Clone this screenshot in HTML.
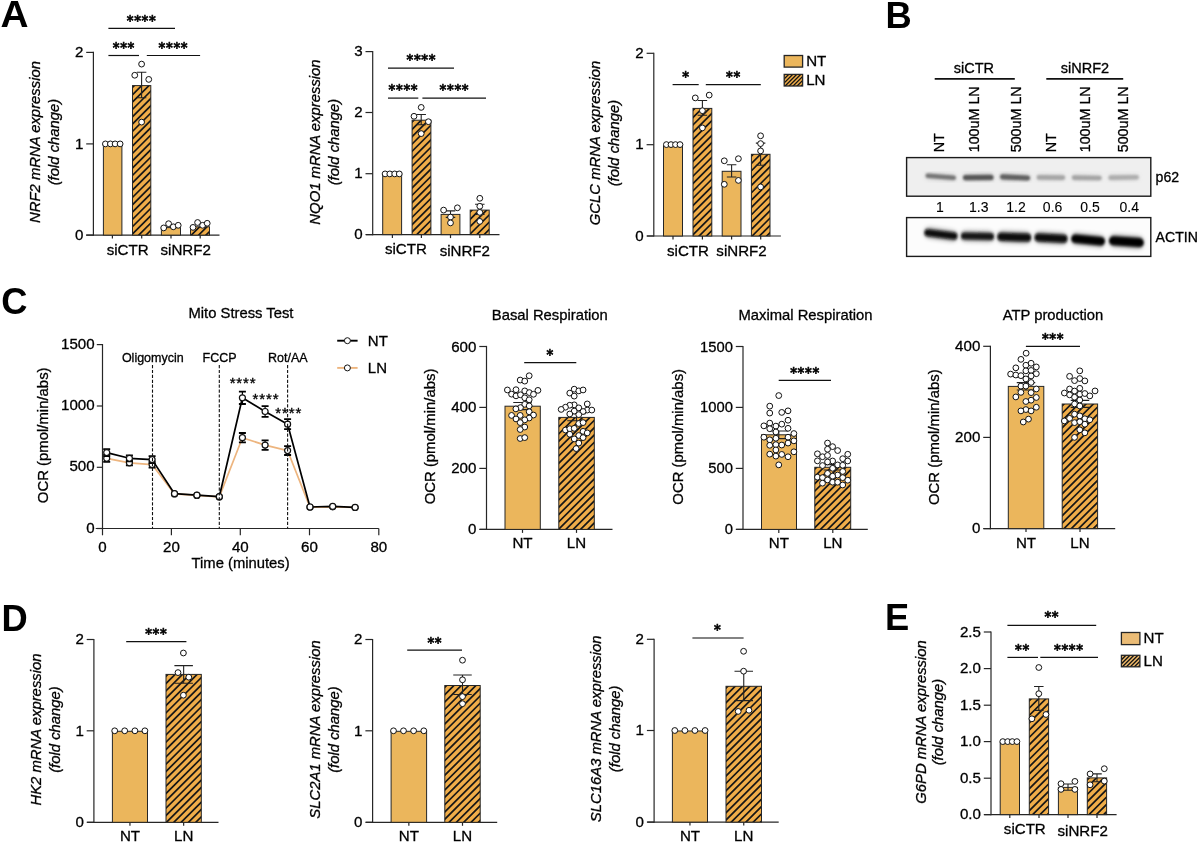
<!DOCTYPE html>
<html lang="en">
<head>
<meta charset="utf-8">
<title>Figure</title>
<style>
html,body{margin:0;padding:0;background:#fff;}
body{width:1200px;height:843px;overflow:hidden;}
svg{display:block;font-family:"Liberation Sans",sans-serif;}
text{stroke:#000;stroke-width:.3px;}
text[font-weight=bold]{stroke:none;}
</style>
</head>
<body>
<svg width="1200" height="843" viewBox="0 0 1200 843">
<defs>
<clipPath id="c1"><rect x="132.5" y="85.6" width="18.3" height="149.5"/></clipPath>
<clipPath id="c2"><rect x="190.5" y="226.8" width="19" height="8.3"/></clipPath>
<clipPath id="c3"><rect x="412.1" y="120.2" width="18.8" height="114.4"/></clipPath>
<clipPath id="c4"><rect x="470.2" y="210.1" width="19" height="24.5"/></clipPath>
<clipPath id="c5"><rect x="693" y="108.4" width="18.8" height="127.6"/></clipPath>
<clipPath id="c6"><rect x="751.4" y="154.3" width="18.6" height="81.7"/></clipPath>
<clipPath id="c7"><rect x="784.2" y="74.4" width="18.4" height="11.6"/></clipPath>
<filter id="b1" x="-20%" y="-150%" width="140%" height="400%"><feGaussianBlur stdDeviation="1.1 1.2"/></filter>
<filter id="b2" x="-20%" y="-150%" width="140%" height="400%"><feGaussianBlur stdDeviation="1.2 1.4"/></filter>
<clipPath id="bl1"><rect x="906.6" y="157.6" width="244.2" height="38.6"/></clipPath>
<clipPath id="bl2"><rect x="906.6" y="217.6" width="244.2" height="38.8"/></clipPath>
<filter id="b3" x="-20%" y="-200%" width="140%" height="500%"><feGaussianBlur stdDeviation="2 2.6"/></filter>
<clipPath id="c8"><rect x="558.8" y="417.4" width="35.5" height="112"/></clipPath>
<clipPath id="c9"><rect x="814.8" y="467.3" width="35.9" height="62.1"/></clipPath>
<clipPath id="c10"><rect x="1062.2" y="404" width="35.4" height="124.6"/></clipPath>
<clipPath id="c11"><rect x="166" y="674.4" width="35.3" height="147.9"/></clipPath>
<clipPath id="c12"><rect x="444.8" y="685.5" width="35.4" height="136.8"/></clipPath>
<clipPath id="c13"><rect x="726" y="686.3" width="35.5" height="135.8"/></clipPath>
<clipPath id="c14"><rect x="1029.3" y="698.9" width="19.3" height="115.7"/></clipPath>
<clipPath id="c15"><rect x="1087.3" y="777.9" width="19.3" height="36.7"/></clipPath>
<clipPath id="c16"><rect x="1121.4" y="655.3" width="18.5" height="11.5"/></clipPath>
</defs>
<rect width="1200" height="843" fill="#fff"/>
<text transform="translate(0.6 27) scale(1.07 1)" font-weight="bold" font-size="36.3">A</text>
<text x="885.6" y="27.8" font-weight="bold" font-size="36.3">B</text>
<text x="1.2" y="314" font-weight="bold" font-size="36.3">C</text>
<text x="1.5" y="631" font-weight="bold" font-size="36.3">D</text>
<text x="885" y="630" font-weight="bold" font-size="36.3">E</text>
<line x1="93.4" y1="51.8" x2="93.4" y2="235.7" stroke="#262626" stroke-width="1.2"/>
<line x1="86.2" y1="52.4" x2="93.4" y2="52.4" stroke="#262626" stroke-width="1.2"/>
<text x="83.3" y="57.1" text-anchor="end" font-size="15.1">2</text>
<line x1="86.2" y1="143.9" x2="93.4" y2="143.9" stroke="#262626" stroke-width="1.2"/>
<text x="83.3" y="148.6" text-anchor="end" font-size="15.1">1</text>
<line x1="86.2" y1="235.1" x2="93.4" y2="235.1" stroke="#262626" stroke-width="1.2"/>
<text x="83.3" y="239.8" text-anchor="end" font-size="15.1">0</text>
<line x1="86.2" y1="235.1" x2="219.5" y2="235.1" stroke="#262626" stroke-width="1.2"/>
<line x1="112.4" y1="235.1" x2="112.4" y2="238.6" stroke="#262626" stroke-width="1.2"/>
<line x1="141.7" y1="235.1" x2="141.7" y2="238.6" stroke="#262626" stroke-width="1.2"/>
<line x1="171" y1="235.1" x2="171" y2="238.6" stroke="#262626" stroke-width="1.2"/>
<line x1="200.2" y1="235.1" x2="200.2" y2="238.6" stroke="#262626" stroke-width="1.2"/>
<rect x="103.4" y="144.6" width="18.5" height="90.5" fill="#EBB65C"/>
<rect x="103.4" y="144.6" width="18.5" height="90.5" fill="none" stroke="#262626" stroke-width="1"/>
<rect x="132.5" y="85.6" width="18.3" height="149.5" fill="#F0AD49"/>
<path clip-path="url(#c1)" d="M130.5 82.07L152.8 59.77M130.5 89.4L152.8 67.1M130.5 96.73L152.8 74.43M130.5 104.06L152.8 81.76M130.5 111.39L152.8 89.09M130.5 118.72L152.8 96.42M130.5 126.05L152.8 103.75M130.5 133.38L152.8 111.08M130.5 140.71L152.8 118.41M130.5 148.04L152.8 125.74M130.5 155.37L152.8 133.07M130.5 162.7L152.8 140.4M130.5 170.03L152.8 147.73M130.5 177.36L152.8 155.06M130.5 184.69L152.8 162.39M130.5 192.02L152.8 169.72M130.5 199.35L152.8 177.05M130.5 206.68L152.8 184.38M130.5 214.01L152.8 191.71M130.5 221.34L152.8 199.04M130.5 228.67L152.8 206.37M130.5 236L152.8 213.7M130.5 243.33L152.8 221.03M130.5 250.66L152.8 228.36M130.5 257.99L152.8 235.69" stroke="#161616" stroke-width="1.7" fill="none"/>
<rect x="132.5" y="85.6" width="18.3" height="149.5" fill="none" stroke="#262626" stroke-width="1"/>
<rect x="161.4" y="227.6" width="19.1" height="7.5" fill="#EBB65C"/>
<rect x="161.4" y="227.6" width="19.1" height="7.5" fill="none" stroke="#262626" stroke-width="1"/>
<rect x="190.5" y="226.8" width="19" height="8.3" fill="#F0AD49"/>
<path clip-path="url(#c2)" d="M188.5 223.27L211.5 200.27M188.5 230.6L211.5 207.6M188.5 237.93L211.5 214.93M188.5 245.26L211.5 222.26M188.5 252.59L211.5 229.59M188.5 259.92L211.5 236.92" stroke="#161616" stroke-width="1.7" fill="none"/>
<rect x="190.5" y="226.8" width="19" height="8.3" fill="none" stroke="#262626" stroke-width="1"/>
<path d="M136.85 72.3H146.35M136.85 97.8H146.35M141.6 72.3V97.8" stroke="#222" stroke-width="1.1" fill="none"/>
<g fill="#fff" stroke="#111" stroke-width="1">
<circle cx="105.4" cy="143.9" r="2.9"/>
<circle cx="110.4" cy="143.9" r="2.9"/>
<circle cx="115.1" cy="143.9" r="2.9"/>
<circle cx="120.1" cy="143.9" r="2.9"/>
</g>
<g fill="#fff" stroke="#111" stroke-width="1">
<circle cx="141.6" cy="64.1" r="2.9"/>
<circle cx="134.75" cy="75.25" r="2.9"/>
<circle cx="148.75" cy="79.4" r="2.9"/>
<circle cx="141.6" cy="122.1" r="2.9"/>
</g>
<g fill="#fff" stroke="#111" stroke-width="1">
<circle cx="163.7" cy="227.9" r="2.9"/>
<circle cx="168.6" cy="223.7" r="2.9"/>
<circle cx="173.3" cy="226.8" r="2.9"/>
<circle cx="178.2" cy="225.3" r="2.9"/>
</g>
<g fill="#fff" stroke="#111" stroke-width="1">
<circle cx="193" cy="227.4" r="2.9"/>
<circle cx="197.6" cy="222.5" r="2.9"/>
<circle cx="202.6" cy="225.3" r="2.9"/>
<circle cx="207.2" cy="223.3" r="2.9"/>
</g>
<text x="127.6" y="255" text-anchor="middle" font-size="15.1">siCTR</text>
<text x="185.7" y="255" text-anchor="middle" font-size="15.1">siNRF2</text>
<text transform="translate(40 142) rotate(-90)" text-anchor="middle" font-style="italic" font-size="14.85">NRF2 mRNA expression</text>
<text transform="translate(59.2 142) rotate(-90)" text-anchor="middle" font-style="italic" font-size="14.85">(fold change)</text>
<line x1="108.4" y1="28.4" x2="175" y2="28.4" stroke="#111" stroke-width="1.2"/>
<text transform="translate(126.8 24.65) scale(0.88 1)" font-family="'DejaVu Sans',sans-serif" font-weight="bold" font-size="14.6" letter-spacing="0.77" style="stroke:#000;stroke-width:0.6px">****</text>
<line x1="108.4" y1="55.5" x2="139" y2="55.5" stroke="#111" stroke-width="1.2"/>
<text transform="translate(112.8 51.85) scale(0.88 1)" font-family="'DejaVu Sans',sans-serif" font-weight="bold" font-size="14.6" letter-spacing="0.77" style="stroke:#000;stroke-width:0.6px">***</text>
<line x1="146.8" y1="55.5" x2="200.1" y2="55.5" stroke="#111" stroke-width="1.2"/>
<text transform="translate(158.6 51.85) scale(0.88 1)" font-family="'DejaVu Sans',sans-serif" font-weight="bold" font-size="14.6" letter-spacing="0.77" style="stroke:#000;stroke-width:0.6px">****</text>
<line x1="372.7" y1="51" x2="372.7" y2="235.2" stroke="#262626" stroke-width="1.2"/>
<line x1="365.5" y1="51.6" x2="372.7" y2="51.6" stroke="#262626" stroke-width="1.2"/>
<text x="362.6" y="56.3" text-anchor="end" font-size="15.1">3</text>
<line x1="365.5" y1="112.5" x2="372.7" y2="112.5" stroke="#262626" stroke-width="1.2"/>
<text x="362.6" y="117.2" text-anchor="end" font-size="15.1">2</text>
<line x1="365.5" y1="173.7" x2="372.7" y2="173.7" stroke="#262626" stroke-width="1.2"/>
<text x="362.6" y="178.4" text-anchor="end" font-size="15.1">1</text>
<line x1="365.5" y1="234.6" x2="372.7" y2="234.6" stroke="#262626" stroke-width="1.2"/>
<text x="362.6" y="239.3" text-anchor="end" font-size="15.1">0</text>
<line x1="365.9" y1="234.6" x2="499.5" y2="234.6" stroke="#262626" stroke-width="1.2"/>
<line x1="392.4" y1="234.6" x2="392.4" y2="238.1" stroke="#262626" stroke-width="1.2"/>
<line x1="421.4" y1="234.6" x2="421.4" y2="238.1" stroke="#262626" stroke-width="1.2"/>
<line x1="450.5" y1="234.6" x2="450.5" y2="238.1" stroke="#262626" stroke-width="1.2"/>
<line x1="479.8" y1="234.6" x2="479.8" y2="238.1" stroke="#262626" stroke-width="1.2"/>
<rect x="382.7" y="174.7" width="18.9" height="59.9" fill="#EBB65C"/>
<rect x="382.7" y="174.7" width="18.9" height="59.9" fill="none" stroke="#262626" stroke-width="1"/>
<rect x="412.1" y="120.2" width="18.8" height="114.4" fill="#F0AD49"/>
<path clip-path="url(#c3)" d="M410.1 116.67L432.9 93.87M410.1 124L432.9 101.2M410.1 131.33L432.9 108.53M410.1 138.66L432.9 115.86M410.1 145.99L432.9 123.19M410.1 153.32L432.9 130.52M410.1 160.65L432.9 137.85M410.1 167.98L432.9 145.18M410.1 175.31L432.9 152.51M410.1 182.64L432.9 159.84M410.1 189.97L432.9 167.17M410.1 197.3L432.9 174.5M410.1 204.63L432.9 181.83M410.1 211.96L432.9 189.16M410.1 219.29L432.9 196.49M410.1 226.62L432.9 203.82M410.1 233.95L432.9 211.15M410.1 241.28L432.9 218.48M410.1 248.61L432.9 225.81M410.1 255.94L432.9 233.14" stroke="#161616" stroke-width="1.7" fill="none"/>
<rect x="412.1" y="120.2" width="18.8" height="114.4" fill="none" stroke="#262626" stroke-width="1"/>
<rect x="441.1" y="214.4" width="18.8" height="20.2" fill="#EBB65C"/>
<rect x="441.1" y="214.4" width="18.8" height="20.2" fill="none" stroke="#262626" stroke-width="1"/>
<rect x="470.2" y="210.1" width="19" height="24.5" fill="#F0AD49"/>
<path clip-path="url(#c4)" d="M468.2 206.57L491.2 183.57M468.2 213.9L491.2 190.9M468.2 221.23L491.2 198.23M468.2 228.56L491.2 205.56M468.2 235.89L491.2 212.89M468.2 243.22L491.2 220.22M468.2 250.55L491.2 227.55M468.2 257.88L491.2 234.88" stroke="#161616" stroke-width="1.7" fill="none"/>
<rect x="470.2" y="210.1" width="19" height="24.5" fill="none" stroke="#262626" stroke-width="1"/>
<path d="M416.45 114.5H425.95M416.45 124.8H425.95M421.2 114.5V124.8" stroke="#222" stroke-width="1.1" fill="none"/>
<path d="M445.75 210.9H455.25M445.75 217.4H455.25M450.5 210.9V217.4" stroke="#222" stroke-width="1.1" fill="none"/>
<path d="M475.05 204.3H484.55M475.05 214.4H484.55M479.8 204.3V214.4" stroke="#222" stroke-width="1.1" fill="none"/>
<g fill="#fff" stroke="#111" stroke-width="1">
<circle cx="385.1" cy="173.9" r="2.9"/>
<circle cx="389.8" cy="173.9" r="2.9"/>
<circle cx="394.7" cy="173.9" r="2.9"/>
<circle cx="399.3" cy="173.9" r="2.9"/>
</g>
<g fill="#fff" stroke="#111" stroke-width="1">
<circle cx="421.2" cy="107.4" r="2.9"/>
<circle cx="414" cy="116.3" r="2.9"/>
<circle cx="428.4" cy="121.7" r="2.9"/>
<circle cx="421.2" cy="133.6" r="2.9"/>
</g>
<g fill="#fff" stroke="#111" stroke-width="1">
<circle cx="443.6" cy="210.1" r="2.9"/>
<circle cx="457.4" cy="207.8" r="2.9"/>
<circle cx="450.5" cy="217.1" r="2.9"/>
<circle cx="450.5" cy="222.9" r="2.9"/>
</g>
<g fill="#fff" stroke="#111" stroke-width="1">
<circle cx="479.8" cy="198.3" r="2.9"/>
<circle cx="479.8" cy="206.3" r="2.9"/>
<circle cx="479.8" cy="212.4" r="2.9"/>
<circle cx="479.8" cy="221.4" r="2.9"/>
</g>
<text x="405.9" y="254.4" text-anchor="middle" font-size="15.1">siCTR</text>
<text x="464.8" y="255.6" text-anchor="middle" font-size="15.1">siNRF2</text>
<text transform="translate(319.8 142) rotate(-90)" text-anchor="middle" font-style="italic" font-size="14.85">NQO1 mRNA expression</text>
<text transform="translate(339 142) rotate(-90)" text-anchor="middle" font-style="italic" font-size="14.85">(fold change)</text>
<line x1="388" y1="68.2" x2="454" y2="68.2" stroke="#111" stroke-width="1.2"/>
<text transform="translate(406.5 64.45) scale(0.88 1)" font-family="'DejaVu Sans',sans-serif" font-weight="bold" font-size="14.6" letter-spacing="0.77" style="stroke:#000;stroke-width:0.6px">****</text>
<line x1="388" y1="98.1" x2="418.3" y2="98.1" stroke="#111" stroke-width="1.2"/>
<text transform="translate(388.6 94.35) scale(0.88 1)" font-family="'DejaVu Sans',sans-serif" font-weight="bold" font-size="14.6" letter-spacing="0.77" style="stroke:#000;stroke-width:0.6px">****</text>
<line x1="422.4" y1="98.1" x2="486" y2="98.1" stroke="#111" stroke-width="1.2"/>
<text transform="translate(439.6 94.35) scale(0.88 1)" font-family="'DejaVu Sans',sans-serif" font-weight="bold" font-size="14.6" letter-spacing="0.77" style="stroke:#000;stroke-width:0.6px">****</text>
<line x1="653.8" y1="52.7" x2="653.8" y2="236.6" stroke="#262626" stroke-width="1.2"/>
<line x1="646.6" y1="53.3" x2="653.8" y2="53.3" stroke="#262626" stroke-width="1.2"/>
<text x="643.7" y="58" text-anchor="end" font-size="15.1">2</text>
<line x1="646.6" y1="144.7" x2="653.8" y2="144.7" stroke="#262626" stroke-width="1.2"/>
<text x="643.7" y="149.4" text-anchor="end" font-size="15.1">1</text>
<line x1="646.6" y1="236" x2="653.8" y2="236" stroke="#262626" stroke-width="1.2"/>
<text x="643.7" y="240.7" text-anchor="end" font-size="15.1">0</text>
<line x1="647" y1="236" x2="780.9" y2="236" stroke="#262626" stroke-width="1.2"/>
<line x1="673" y1="236" x2="673" y2="239.5" stroke="#262626" stroke-width="1.2"/>
<line x1="702.4" y1="236" x2="702.4" y2="239.5" stroke="#262626" stroke-width="1.2"/>
<line x1="731.6" y1="236" x2="731.6" y2="239.5" stroke="#262626" stroke-width="1.2"/>
<line x1="760.7" y1="236" x2="760.7" y2="239.5" stroke="#262626" stroke-width="1.2"/>
<rect x="663.5" y="145.7" width="19" height="90.3" fill="#EBB65C"/>
<rect x="663.5" y="145.7" width="19" height="90.3" fill="none" stroke="#262626" stroke-width="1"/>
<rect x="693" y="108.4" width="18.8" height="127.6" fill="#F0AD49"/>
<path clip-path="url(#c5)" d="M691 104.87L713.8 82.07M691 112.2L713.8 89.4M691 119.53L713.8 96.73M691 126.86L713.8 104.06M691 134.19L713.8 111.39M691 141.52L713.8 118.72M691 148.85L713.8 126.05M691 156.18L713.8 133.38M691 163.51L713.8 140.71M691 170.84L713.8 148.04M691 178.17L713.8 155.37M691 185.5L713.8 162.7M691 192.83L713.8 170.03M691 200.16L713.8 177.36M691 207.49L713.8 184.69M691 214.82L713.8 192.02M691 222.15L713.8 199.35M691 229.48L713.8 206.68M691 236.81L713.8 214.01M691 244.14L713.8 221.34M691 251.47L713.8 228.67M691 258.8L713.8 236" stroke="#161616" stroke-width="1.7" fill="none"/>
<rect x="693" y="108.4" width="18.8" height="127.6" fill="none" stroke="#262626" stroke-width="1"/>
<rect x="722.2" y="171.3" width="18.8" height="64.7" fill="#EBB65C"/>
<rect x="722.2" y="171.3" width="18.8" height="64.7" fill="none" stroke="#262626" stroke-width="1"/>
<rect x="751.4" y="154.3" width="18.6" height="81.7" fill="#F0AD49"/>
<path clip-path="url(#c6)" d="M749.4 150.77L772 128.17M749.4 158.1L772 135.5M749.4 165.43L772 142.83M749.4 172.76L772 150.16M749.4 180.09L772 157.49M749.4 187.42L772 164.82M749.4 194.75L772 172.15M749.4 202.08L772 179.48M749.4 209.41L772 186.81M749.4 216.74L772 194.14M749.4 224.07L772 201.47M749.4 231.4L772 208.8M749.4 238.73L772 216.13M749.4 246.06L772 223.46M749.4 253.39L772 230.79M749.4 260.72L772 238.12" stroke="#161616" stroke-width="1.7" fill="none"/>
<rect x="751.4" y="154.3" width="18.6" height="81.7" fill="none" stroke="#262626" stroke-width="1"/>
<path d="M697.65 100.5H707.15M697.65 115.2H707.15M702.4 100.5V115.2" stroke="#222" stroke-width="1.1" fill="none"/>
<path d="M726.85 164.7H736.35M726.85 177H736.35M731.6 164.7V177" stroke="#222" stroke-width="1.1" fill="none"/>
<path d="M755.85 143.1H765.35M755.85 165.3H765.35M760.6 143.1V165.3" stroke="#222" stroke-width="1.1" fill="none"/>
<g fill="#fff" stroke="#111" stroke-width="1">
<circle cx="666.4" cy="144.6" r="2.9"/>
<circle cx="671" cy="144.6" r="2.9"/>
<circle cx="675.5" cy="144.6" r="2.9"/>
<circle cx="680" cy="144.6" r="2.9"/>
</g>
<g fill="#fff" stroke="#111" stroke-width="1">
<circle cx="695.3" cy="97.9" r="2.9"/>
<circle cx="709.2" cy="95.1" r="2.9"/>
<circle cx="702.4" cy="110.7" r="2.9"/>
<circle cx="702.4" cy="127.9" r="2.9"/>
</g>
<g fill="#fff" stroke="#111" stroke-width="1">
<circle cx="724.3" cy="160.8" r="2.9"/>
<circle cx="738.4" cy="158.7" r="2.9"/>
<circle cx="724.3" cy="184.3" r="2.9"/>
<circle cx="738.4" cy="180.4" r="2.9"/>
</g>
<g fill="#fff" stroke="#111" stroke-width="1">
<circle cx="760.6" cy="135.8" r="2.9"/>
<circle cx="760.6" cy="143.6" r="2.9"/>
<circle cx="760.6" cy="150.9" r="2.9"/>
<circle cx="760.6" cy="186.9" r="2.9"/>
</g>
<text x="688" y="255.8" text-anchor="middle" font-size="15.1">siCTR</text>
<text x="741.5" y="255.8" text-anchor="middle" font-size="15.1">siNRF2</text>
<text transform="translate(600.4 143) rotate(-90)" text-anchor="middle" font-style="italic" font-size="14.85">GCLC mRNA expression</text>
<text transform="translate(619.3 143) rotate(-90)" text-anchor="middle" font-style="italic" font-size="14.85">(fold change)</text>
<line x1="672.6" y1="84.6" x2="698.7" y2="84.6" stroke="#111" stroke-width="1.2"/>
<text transform="translate(682.2 80.95) scale(0.88 1)" font-family="'DejaVu Sans',sans-serif" font-weight="bold" font-size="14.6" letter-spacing="0.77" style="stroke:#000;stroke-width:0.6px">*</text>
<line x1="705.8" y1="84.6" x2="760.8" y2="84.6" stroke="#111" stroke-width="1.2"/>
<text transform="translate(726 80.95) scale(0.88 1)" font-family="'DejaVu Sans',sans-serif" font-weight="bold" font-size="14.6" letter-spacing="0.77" style="stroke:#000;stroke-width:0.6px">**</text>
<rect x="784.2" y="55.5" width="18.4" height="11.6" fill="#EBB65C"/>
<rect x="784.2" y="55.5" width="18.4" height="11.6" fill="none" stroke="#262626" stroke-width="1.3"/>
<rect x="784.2" y="74.4" width="18.4" height="11.6" fill="#F0AD49"/>
<path clip-path="url(#c7)" d="M782.2 72.9L804.6 50.5M782.2 76.9L804.6 54.5M782.2 80.9L804.6 58.5M782.2 84.9L804.6 62.5M782.2 88.9L804.6 66.5M782.2 92.9L804.6 70.5M782.2 96.9L804.6 74.5M782.2 100.9L804.6 78.5M782.2 104.9L804.6 82.5M782.2 108.9L804.6 86.5" stroke="#161616" stroke-width="1.35" fill="none"/>
<rect x="784.2" y="74.4" width="18.4" height="11.6" fill="none" stroke="#262626" stroke-width="1.3"/>
<text x="806.2" y="65.7" font-size="15.1">NT</text>
<text x="806.2" y="84.7" font-size="15.1">LN</text>
<text x="973.9" y="72.8" text-anchor="middle" font-size="14.5">siCTR</text>
<text x="1085" y="72.8" text-anchor="middle" font-size="14.5">siNRF2</text>
<line x1="934.7" y1="78.8" x2="1014.8" y2="78.8" stroke="#111" stroke-width="1.7"/>
<line x1="1046.3" y1="78.8" x2="1123.2" y2="78.8" stroke="#111" stroke-width="1.7"/>
<text transform="translate(944.2 152.3) rotate(-90)" font-size="14.3">NT</text>
<text transform="translate(978.8 152.3) rotate(-90)" font-size="14.3">100uM LN</text>
<text transform="translate(1021.2 152.3) rotate(-90)" font-size="14.3">500uM LN</text>
<text transform="translate(1056.2 152.3) rotate(-90)" font-size="14.3">NT</text>
<text transform="translate(1090 152.3) rotate(-90)" font-size="14.3">100uM LN</text>
<text transform="translate(1128.2 152.3) rotate(-90)" font-size="14.3">500uM LN</text>
<rect x="906.6" y="157.6" width="244.2" height="38.6" fill="#efefef"/>
<g clip-path="url(#bl1)"><g filter="url(#b3)" opacity=".3">
<line x1="928.8" y1="175.8" x2="952.7" y2="177.8" stroke="#767676" stroke-width="6.6" stroke-linecap="round"/>
<line x1="966.6" y1="177.6" x2="989.9" y2="177.4" stroke="#585858" stroke-width="7.2" stroke-linecap="round"/>
<line x1="1003.6" y1="176.8" x2="1026.6" y2="178" stroke="#626262" stroke-width="7.2" stroke-linecap="round"/>
<line x1="1039.9" y1="177.4" x2="1061.9" y2="177.6" stroke="#a6a6a6" stroke-width="6.6" stroke-linecap="round"/>
<line x1="1075.1" y1="177.6" x2="1098.4" y2="178" stroke="#a4a4a4" stroke-width="6.6" stroke-linecap="round"/>
<line x1="1111.7" y1="177.6" x2="1135.6" y2="177.2" stroke="#aeaeae" stroke-width="6.6" stroke-linecap="round"/>
</g><g filter="url(#b1)">
<line x1="927.8" y1="175.8" x2="953.7" y2="177.8" stroke="#767676" stroke-width="4.6" stroke-linecap="round"/>
<line x1="965.6" y1="177.6" x2="990.9" y2="177.4" stroke="#585858" stroke-width="5.2" stroke-linecap="round"/>
<line x1="1002.6" y1="176.8" x2="1027.6" y2="178" stroke="#626262" stroke-width="5.2" stroke-linecap="round"/>
<line x1="1038.9" y1="177.4" x2="1062.9" y2="177.6" stroke="#a6a6a6" stroke-width="4.6" stroke-linecap="round"/>
<line x1="1074.1" y1="177.6" x2="1099.4" y2="178" stroke="#a4a4a4" stroke-width="4.6" stroke-linecap="round"/>
<line x1="1110.7" y1="177.6" x2="1136.6" y2="177.2" stroke="#aeaeae" stroke-width="4.6" stroke-linecap="round"/>
</g></g>
<rect x="906.6" y="157.6" width="244.2" height="38.6" fill="none" stroke="#1a1a1a" stroke-width="1.4"/>
<text x="1155.6" y="182" font-size="14.1">p62</text>
<text x="939.8" y="212.2" text-anchor="middle" font-size="14" style="stroke-width:.1px">1</text>
<text x="978.7" y="212.2" text-anchor="middle" font-size="14" style="stroke-width:.1px">1.3</text>
<text x="1016" y="212.2" text-anchor="middle" font-size="14" style="stroke-width:.1px">1.2</text>
<text x="1052.6" y="212.2" text-anchor="middle" font-size="14" style="stroke-width:.1px">0.6</text>
<text x="1090" y="212.2" text-anchor="middle" font-size="14" style="stroke-width:.1px">0.5</text>
<text x="1129.3" y="212.2" text-anchor="middle" font-size="14" style="stroke-width:.1px">0.4</text>
<rect x="906.6" y="217.6" width="244.2" height="38.8" fill="#fcfcfc"/>
<g clip-path="url(#bl2)"><g filter="url(#b3)" opacity=".4">
<line x1="929.4" y1="232.8" x2="952.4" y2="236" stroke="#0a0a0a" stroke-width="10" stroke-linecap="round"/>
<line x1="966" y1="236" x2="989" y2="236.6" stroke="#181818" stroke-width="10" stroke-linecap="round"/>
<line x1="1002.9" y1="236.8" x2="1025.5" y2="237.6" stroke="#080808" stroke-width="11" stroke-linecap="round"/>
<line x1="1040.1" y1="237.4" x2="1061.9" y2="238.8" stroke="#080808" stroke-width="11" stroke-linecap="round"/>
<line x1="1076.9" y1="238.8" x2="1099.3" y2="241.2" stroke="#050505" stroke-width="11.4" stroke-linecap="round"/>
<line x1="1115" y1="240.8" x2="1137.8" y2="242.6" stroke="#020202" stroke-width="12" stroke-linecap="round"/>
</g><g filter="url(#b2)">
<line x1="927.9" y1="232.8" x2="953.9" y2="236" stroke="#0a0a0a" stroke-width="7" stroke-linecap="round"/>
<line x1="964.5" y1="236" x2="990.5" y2="236.6" stroke="#181818" stroke-width="7" stroke-linecap="round"/>
<line x1="1001.4" y1="236.8" x2="1027" y2="237.6" stroke="#080808" stroke-width="8" stroke-linecap="round"/>
<line x1="1038.6" y1="237.4" x2="1063.4" y2="238.8" stroke="#080808" stroke-width="8" stroke-linecap="round"/>
<line x1="1075.4" y1="238.8" x2="1100.8" y2="241.2" stroke="#050505" stroke-width="8.4" stroke-linecap="round"/>
<line x1="1113.5" y1="240.8" x2="1139.3" y2="242.6" stroke="#020202" stroke-width="9" stroke-linecap="round"/>
</g></g>
<rect x="906.6" y="217.6" width="244.2" height="38.8" fill="none" stroke="#1a1a1a" stroke-width="1.4"/>
<text x="1155.6" y="241.7" font-size="14.1">ACTIN</text>
<text x="241" y="318" text-anchor="middle" font-size="14.8">Mito Stress Test</text>
<line x1="102.5" y1="344" x2="102.5" y2="529.1" stroke="#262626" stroke-width="1.2"/>
<line x1="96.8" y1="344.6" x2="102.5" y2="344.6" stroke="#262626" stroke-width="1.2"/>
<text x="94.6" y="348.7" text-anchor="end" font-size="15.1">1500</text>
<line x1="96.8" y1="406" x2="102.5" y2="406" stroke="#262626" stroke-width="1.2"/>
<text x="94.6" y="410.1" text-anchor="end" font-size="15.1">1000</text>
<line x1="96.8" y1="467.3" x2="102.5" y2="467.3" stroke="#262626" stroke-width="1.2"/>
<text x="94.6" y="471.4" text-anchor="end" font-size="15.1">500</text>
<line x1="96.8" y1="528.5" x2="102.5" y2="528.5" stroke="#262626" stroke-width="1.2"/>
<text x="94.6" y="532.6" text-anchor="end" font-size="15.1">0</text>
<line x1="95.7" y1="528.5" x2="378.8" y2="528.5" stroke="#262626" stroke-width="1.2"/>
<line x1="102.5" y1="528.5" x2="102.5" y2="535.3" stroke="#262626" stroke-width="1.2"/>
<line x1="171.4" y1="528.5" x2="171.4" y2="535.3" stroke="#262626" stroke-width="1.2"/>
<line x1="240.3" y1="528.5" x2="240.3" y2="535.3" stroke="#262626" stroke-width="1.2"/>
<line x1="309.5" y1="528.5" x2="309.5" y2="535.3" stroke="#262626" stroke-width="1.2"/>
<line x1="378.8" y1="528.5" x2="378.8" y2="535.3" stroke="#262626" stroke-width="1.2"/>
<text x="102.5" y="551.6" text-anchor="middle" font-size="15.1">0</text>
<text x="171.4" y="551.6" text-anchor="middle" font-size="15.1">20</text>
<text x="240.3" y="551.6" text-anchor="middle" font-size="15.1">40</text>
<text x="309.5" y="551.6" text-anchor="middle" font-size="15.1">60</text>
<text x="378.8" y="551.6" text-anchor="middle" font-size="15.1">80</text>
<text x="240.6" y="568.4" text-anchor="middle" font-size="14.8">Time (minutes)</text>
<text transform="translate(48.1 435.3) rotate(-90)" text-anchor="middle" font-size="14.9">OCR (pmol/min/abs)</text>
<polyline points="106.7,458.3 129.4,462.8 152.1,464.6 174.5,493.9 196.9,495.4 219.3,496.9 242.4,437.7 265.1,445.1 287.6,450.6 310,507.2 332.7,506.8 355.1,507.5" fill="none" stroke="#EDB57F" stroke-width="1.7" stroke-linejoin="round"/>
<path d="M103.2 454.8H110.2M103.2 461.8H110.2" stroke="#000" stroke-width="1.8" fill="none"/>
<path d="M106.7 454.8V461.8" stroke="#000" stroke-width="1.2" fill="none"/>
<path d="M125.9 460.3H132.9M125.9 465.3H132.9" stroke="#000" stroke-width="1.8" fill="none"/>
<path d="M129.4 460.3V465.3" stroke="#000" stroke-width="1.2" fill="none"/>
<path d="M148.6 461.6H155.6M148.6 467.6H155.6" stroke="#000" stroke-width="1.8" fill="none"/>
<path d="M152.1 461.6V467.6" stroke="#000" stroke-width="1.2" fill="none"/>
<path d="M238.9 433H245.9M238.9 442.4H245.9" stroke="#000" stroke-width="1.8" fill="none"/>
<path d="M242.4 433V442.4" stroke="#000" stroke-width="1.2" fill="none"/>
<path d="M261.6 440.3H268.6M261.6 449.9H268.6" stroke="#000" stroke-width="1.8" fill="none"/>
<path d="M265.1 440.3V449.9" stroke="#000" stroke-width="1.2" fill="none"/>
<path d="M284.1 446.2H291.1M284.1 455H291.1" stroke="#000" stroke-width="1.8" fill="none"/>
<path d="M287.6 446.2V455" stroke="#000" stroke-width="1.2" fill="none"/>
<g fill="#fff" stroke="#111" stroke-width="1.2">
<circle cx="106.7" cy="458.3" r="3"/>
<circle cx="129.4" cy="462.8" r="3"/>
<circle cx="152.1" cy="464.6" r="3"/>
<circle cx="174.5" cy="493.9" r="3"/>
<circle cx="196.9" cy="495.4" r="3"/>
<circle cx="219.3" cy="496.9" r="3"/>
<circle cx="242.4" cy="437.7" r="3"/>
<circle cx="265.1" cy="445.1" r="3"/>
<circle cx="287.6" cy="450.6" r="3"/>
<circle cx="310" cy="507.2" r="3"/>
<circle cx="332.7" cy="506.8" r="3"/>
<circle cx="355.1" cy="507.5" r="3"/>
</g>
<polyline points="106.7,452.6 129.4,458.3 152.1,459.6 174.5,493.7 196.9,495.2 219.3,496.7 242.4,397.8 265.1,411.5 287.6,424.2 310,507 332.7,506.4 355.1,507.4" fill="none" stroke="#000" stroke-width="1.7" stroke-linejoin="round"/>
<path d="M103.2 449.1H110.2M103.2 456.1H110.2" stroke="#000" stroke-width="1.8" fill="none"/>
<path d="M106.7 449.1V456.1" stroke="#000" stroke-width="1.2" fill="none"/>
<path d="M125.9 455.3H132.9M125.9 461.3H132.9" stroke="#000" stroke-width="1.8" fill="none"/>
<path d="M129.4 455.3V461.3" stroke="#000" stroke-width="1.2" fill="none"/>
<path d="M148.6 456.1H155.6M148.6 463.1H155.6" stroke="#000" stroke-width="1.8" fill="none"/>
<path d="M152.1 456.1V463.1" stroke="#000" stroke-width="1.2" fill="none"/>
<path d="M238.9 391.6H245.9M238.9 404H245.9" stroke="#000" stroke-width="1.8" fill="none"/>
<path d="M242.4 391.6V404" stroke="#000" stroke-width="1.2" fill="none"/>
<path d="M261.6 406.2H268.6M261.6 416.8H268.6" stroke="#000" stroke-width="1.8" fill="none"/>
<path d="M265.1 406.2V416.8" stroke="#000" stroke-width="1.2" fill="none"/>
<path d="M284.1 419.2H291.1M284.1 429.2H291.1" stroke="#000" stroke-width="1.8" fill="none"/>
<path d="M287.6 419.2V429.2" stroke="#000" stroke-width="1.2" fill="none"/>
<g fill="#fff" stroke="#111" stroke-width="1.2">
<circle cx="106.7" cy="452.6" r="3"/>
<circle cx="129.4" cy="458.3" r="3"/>
<circle cx="152.1" cy="459.6" r="3"/>
<circle cx="174.5" cy="493.7" r="3"/>
<circle cx="196.9" cy="495.2" r="3"/>
<circle cx="219.3" cy="496.7" r="3"/>
<circle cx="242.4" cy="397.8" r="3"/>
<circle cx="265.1" cy="411.5" r="3"/>
<circle cx="287.6" cy="424.2" r="3"/>
<circle cx="310" cy="507" r="3"/>
<circle cx="332.7" cy="506.4" r="3"/>
<circle cx="355.1" cy="507.4" r="3"/>
</g>
<line x1="152.5" y1="365" x2="152.5" y2="528.5" stroke="#111" stroke-width="1.1" stroke-dasharray="3.2 1.7"/>
<text x="152.8" y="361.6" text-anchor="middle" font-size="12.5">Oligomycin</text>
<line x1="219.3" y1="365" x2="219.3" y2="528.5" stroke="#111" stroke-width="1.1" stroke-dasharray="3.2 1.7"/>
<text x="219.6" y="361.6" text-anchor="middle" font-size="12.5">FCCP</text>
<line x1="287.6" y1="365" x2="287.6" y2="528.5" stroke="#111" stroke-width="1.1" stroke-dasharray="3.2 1.7"/>
<text x="287.9" y="361.6" text-anchor="middle" font-size="12.5">Rot/AA</text>
<text x="229.63" y="388.39" font-size="15" letter-spacing="0.87" style="stroke-width:.35px">****</text>
<text x="252.53" y="404.39" font-size="15" letter-spacing="0.87" style="stroke-width:.35px">****</text>
<text x="275.33" y="417.69" font-size="15" letter-spacing="0.87" style="stroke-width:.35px">****</text>
<line x1="337.2" y1="340.7" x2="357.6" y2="340.7" stroke="#000" stroke-width="1.9"/>
<g fill="#fff" stroke="#111" stroke-width="1">
<circle cx="347.4" cy="340.7" r="3"/>
</g>
<line x1="337.2" y1="367.9" x2="357.6" y2="367.9" stroke="#EDB57F" stroke-width="1.9"/>
<g fill="#fff" stroke="#111" stroke-width="1">
<circle cx="347.4" cy="367.9" r="3"/>
</g>
<text x="367.8" y="346.2" font-size="15">NT</text>
<text x="367.8" y="373.2" font-size="15">LN</text>
<text x="549.8" y="320.3" text-anchor="middle" font-size="14.8">Basal Respiration</text>
<line x1="486.5" y1="345.9" x2="486.5" y2="530" stroke="#262626" stroke-width="1.2"/>
<line x1="479.3" y1="346.5" x2="486.5" y2="346.5" stroke="#262626" stroke-width="1.2"/>
<text x="476.4" y="351.5" text-anchor="end" font-size="15.1">600</text>
<line x1="479.3" y1="407.4" x2="486.5" y2="407.4" stroke="#262626" stroke-width="1.2"/>
<text x="476.4" y="412.4" text-anchor="end" font-size="15.1">400</text>
<line x1="479.3" y1="468.4" x2="486.5" y2="468.4" stroke="#262626" stroke-width="1.2"/>
<text x="476.4" y="473.4" text-anchor="end" font-size="15.1">200</text>
<line x1="479.3" y1="529.4" x2="486.5" y2="529.4" stroke="#262626" stroke-width="1.2"/>
<text x="476.4" y="534.4" text-anchor="end" font-size="15.1">0</text>
<line x1="479.7" y1="529.4" x2="612.5" y2="529.4" stroke="#262626" stroke-width="1.2"/>
<line x1="522.5" y1="529.4" x2="522.5" y2="532.9" stroke="#262626" stroke-width="1.2"/>
<line x1="576.5" y1="529.4" x2="576.5" y2="532.9" stroke="#262626" stroke-width="1.2"/>
<rect x="505" y="406.2" width="35.3" height="123.2" fill="#EBB65C"/>
<rect x="505" y="406.2" width="35.3" height="123.2" fill="none" stroke="#262626" stroke-width="1"/>
<rect x="558.8" y="417.4" width="35.5" height="112" fill="#F0AD49"/>
<path clip-path="url(#c8)" d="M556.8 413.87L596.3 374.37M556.8 421.2L596.3 381.7M556.8 428.53L596.3 389.03M556.8 435.86L596.3 396.36M556.8 443.19L596.3 403.69M556.8 450.52L596.3 411.02M556.8 457.85L596.3 418.35M556.8 465.18L596.3 425.68M556.8 472.51L596.3 433.01M556.8 479.84L596.3 440.34M556.8 487.17L596.3 447.67M556.8 494.5L596.3 455M556.8 501.83L596.3 462.33M556.8 509.16L596.3 469.66M556.8 516.49L596.3 476.99M556.8 523.82L596.3 484.32M556.8 531.15L596.3 491.65M556.8 538.48L596.3 498.98M556.8 545.81L596.3 506.31M556.8 553.14L596.3 513.64M556.8 560.47L596.3 520.97M556.8 567.8L596.3 528.3" stroke="#161616" stroke-width="1.7" fill="none"/>
<rect x="558.8" y="417.4" width="35.5" height="112" fill="none" stroke="#262626" stroke-width="1"/>
<text x="522.5" y="548.4" text-anchor="middle" font-size="15.1">NT</text>
<text x="576.5" y="548.4" text-anchor="middle" font-size="15.1">LN</text>
<text transform="translate(434.6 436.5) rotate(-90)" text-anchor="middle" font-size="14.9">OCR (pmol/min/abs)</text>
<path d="M513.25 402.5H531.75M513.25 409.6H531.75M522.5 402.5V409.6" stroke="#222" stroke-width="1.1" fill="none"/>
<path d="M567.25 413.6H585.75M567.25 420.8H585.75M576.5 413.6V420.8" stroke="#222" stroke-width="1.1" fill="none"/>
<g fill="#fff" stroke="#111" stroke-width="1">
<circle cx="529.19" cy="375.75" r="2.9"/>
<circle cx="520.19" cy="380.06" r="2.9"/>
<circle cx="524.75" cy="381.1" r="2.9"/>
<circle cx="507.4" cy="389.97" r="2.9"/>
<circle cx="516.01" cy="389.71" r="2.9"/>
<circle cx="524.75" cy="390.89" r="2.9"/>
<circle cx="529.32" cy="392.58" r="2.9"/>
<circle cx="537.93" cy="390.37" r="2.9"/>
<circle cx="511.58" cy="394.15" r="2.9"/>
<circle cx="516.01" cy="395.85" r="2.9"/>
<circle cx="520.45" cy="394.8" r="2.9"/>
<circle cx="533.5" cy="394.28" r="2.9"/>
<circle cx="524.75" cy="397.8" r="2.9"/>
<circle cx="529.19" cy="399.76" r="2.9"/>
<circle cx="524.75" cy="404.33" r="2.9"/>
<circle cx="529.19" cy="405.89" r="2.9"/>
<circle cx="520.45" cy="407.59" r="2.9"/>
<circle cx="515.88" cy="408.89" r="2.9"/>
<circle cx="529.19" cy="411.76" r="2.9"/>
<circle cx="511.58" cy="415.42" r="2.9"/>
<circle cx="520.19" cy="415.42" r="2.9"/>
<circle cx="533.5" cy="415.03" r="2.9"/>
<circle cx="529.19" cy="418.03" r="2.9"/>
<circle cx="516.01" cy="418.94" r="2.9"/>
<circle cx="524.75" cy="419.85" r="2.9"/>
<circle cx="520.19" cy="422.59" r="2.9"/>
<circle cx="524.75" cy="427.03" r="2.9"/>
<circle cx="520.19" cy="429.51" r="2.9"/>
<circle cx="520.19" cy="438.51" r="2.9"/>
<circle cx="524.75" cy="437.6" r="2.9"/>
</g>
<g fill="#fff" stroke="#111" stroke-width="1">
<circle cx="574.21" cy="389.19" r="2.9"/>
<circle cx="578.77" cy="390.89" r="2.9"/>
<circle cx="583.08" cy="389.97" r="2.9"/>
<circle cx="569.77" cy="393.11" r="2.9"/>
<circle cx="574.21" cy="396.11" r="2.9"/>
<circle cx="587.25" cy="403.94" r="2.9"/>
<circle cx="574.21" cy="404.85" r="2.9"/>
<circle cx="569.77" cy="405.24" r="2.9"/>
<circle cx="565.46" cy="407.2" r="2.9"/>
<circle cx="578.77" cy="407.85" r="2.9"/>
<circle cx="561.16" cy="409.42" r="2.9"/>
<circle cx="587.25" cy="410.07" r="2.9"/>
<circle cx="591.82" cy="410.07" r="2.9"/>
<circle cx="574.21" cy="411.11" r="2.9"/>
<circle cx="583.08" cy="411.5" r="2.9"/>
<circle cx="569.77" cy="413.98" r="2.9"/>
<circle cx="578.77" cy="414.63" r="2.9"/>
<circle cx="578.77" cy="423.51" r="2.9"/>
<circle cx="583.08" cy="422.59" r="2.9"/>
<circle cx="565.46" cy="430.03" r="2.9"/>
<circle cx="569.77" cy="428.73" r="2.9"/>
<circle cx="574.21" cy="428.34" r="2.9"/>
<circle cx="583.08" cy="431.34" r="2.9"/>
<circle cx="587.25" cy="432.9" r="2.9"/>
<circle cx="569.77" cy="434.21" r="2.9"/>
<circle cx="578.77" cy="435.51" r="2.9"/>
<circle cx="583.08" cy="437.6" r="2.9"/>
<circle cx="574.21" cy="438.9" r="2.9"/>
<circle cx="578.77" cy="443.08" r="2.9"/>
<circle cx="576.16" cy="448.56" r="2.9"/>
</g>
<line x1="524.2" y1="362.6" x2="576.3" y2="362.6" stroke="#111" stroke-width="1.2"/>
<text transform="translate(546.6 359.15) scale(0.88 1)" font-family="'DejaVu Sans',sans-serif" font-weight="bold" font-size="14.6" letter-spacing="0.77" style="stroke:#000;stroke-width:0.6px">*</text>
<text x="805.5" y="320.3" text-anchor="middle" font-size="14.8">Maximal Respiration</text>
<line x1="743" y1="345.9" x2="743" y2="530" stroke="#262626" stroke-width="1.2"/>
<line x1="735.8" y1="346.5" x2="743" y2="346.5" stroke="#262626" stroke-width="1.2"/>
<text x="732.9" y="351.5" text-anchor="end" font-size="14.75">1500</text>
<line x1="735.8" y1="407.4" x2="743" y2="407.4" stroke="#262626" stroke-width="1.2"/>
<text x="732.9" y="412.4" text-anchor="end" font-size="14.75">1000</text>
<line x1="735.8" y1="468.4" x2="743" y2="468.4" stroke="#262626" stroke-width="1.2"/>
<text x="732.9" y="473.4" text-anchor="end" font-size="14.75">500</text>
<line x1="735.8" y1="529.4" x2="743" y2="529.4" stroke="#262626" stroke-width="1.2"/>
<text x="732.9" y="534.4" text-anchor="end" font-size="14.75">0</text>
<line x1="736.2" y1="529.4" x2="867.8" y2="529.4" stroke="#262626" stroke-width="1.2"/>
<line x1="778.8" y1="529.4" x2="778.8" y2="532.9" stroke="#262626" stroke-width="1.2"/>
<line x1="832.8" y1="529.4" x2="832.8" y2="532.9" stroke="#262626" stroke-width="1.2"/>
<rect x="761.5" y="434.8" width="35" height="94.6" fill="#EBB65C"/>
<rect x="761.5" y="434.8" width="35" height="94.6" fill="none" stroke="#262626" stroke-width="1"/>
<rect x="814.8" y="467.3" width="35.9" height="62.1" fill="#F0AD49"/>
<path clip-path="url(#c9)" d="M812.8 463.77L852.7 423.87M812.8 471.1L852.7 431.2M812.8 478.43L852.7 438.53M812.8 485.76L852.7 445.86M812.8 493.09L852.7 453.19M812.8 500.42L852.7 460.52M812.8 507.75L852.7 467.85M812.8 515.08L852.7 475.18M812.8 522.41L852.7 482.51M812.8 529.74L852.7 489.84M812.8 537.07L852.7 497.17M812.8 544.4L852.7 504.5M812.8 551.73L852.7 511.83M812.8 559.06L852.7 519.16M812.8 566.39L852.7 526.49M812.8 573.72L852.7 533.82" stroke="#161616" stroke-width="1.7" fill="none"/>
<rect x="814.8" y="467.3" width="35.9" height="62.1" fill="none" stroke="#262626" stroke-width="1"/>
<text x="778.8" y="548" text-anchor="middle" font-size="15.1">NT</text>
<text x="832.8" y="548" text-anchor="middle" font-size="15.1">LN</text>
<text transform="translate(683.3 436.8) rotate(-90)" text-anchor="middle" font-size="14.9">OCR (pmol/min/abs)</text>
<path d="M769.55 431H788.05M769.55 438.6H788.05M778.8 431V438.6" stroke="#222" stroke-width="1.1" fill="none"/>
<path d="M823.55 464.6H842.05M823.55 470H842.05M832.8 464.6V470" stroke="#222" stroke-width="1.1" fill="none"/>
<g fill="#fff" stroke="#111" stroke-width="1">
<circle cx="778.75" cy="395.57" r="2.9"/>
<circle cx="769.75" cy="406.14" r="2.9"/>
<circle cx="769.75" cy="413.06" r="2.9"/>
<circle cx="781.75" cy="412.41" r="2.9"/>
<circle cx="788.02" cy="410.84" r="2.9"/>
<circle cx="788.02" cy="420.23" r="2.9"/>
<circle cx="769.75" cy="423.11" r="2.9"/>
<circle cx="781.75" cy="424.15" r="2.9"/>
<circle cx="763.88" cy="425.85" r="2.9"/>
<circle cx="775.88" cy="426.11" r="2.9"/>
<circle cx="769.75" cy="428.72" r="2.9"/>
<circle cx="788.02" cy="428.32" r="2.9"/>
<circle cx="775.88" cy="431.98" r="2.9"/>
<circle cx="793.89" cy="433.54" r="2.9"/>
<circle cx="763.88" cy="437.2" r="2.9"/>
<circle cx="775.88" cy="438.24" r="2.9"/>
<circle cx="788.02" cy="437.2" r="2.9"/>
<circle cx="769.75" cy="439.81" r="2.9"/>
<circle cx="793.89" cy="440.85" r="2.9"/>
<circle cx="788.02" cy="443.07" r="2.9"/>
<circle cx="769.75" cy="445.29" r="2.9"/>
<circle cx="775.88" cy="444.63" r="2.9"/>
<circle cx="781.75" cy="445.03" r="2.9"/>
<circle cx="775.88" cy="449.98" r="2.9"/>
<circle cx="793.89" cy="451.81" r="2.9"/>
<circle cx="769.75" cy="454.16" r="2.9"/>
<circle cx="781.75" cy="454.42" r="2.9"/>
<circle cx="775.88" cy="456.12" r="2.9"/>
<circle cx="788.02" cy="456.77" r="2.9"/>
<circle cx="778.75" cy="464.86" r="2.9"/>
</g>
<g fill="#fff" stroke="#111" stroke-width="1">
<circle cx="827.53" cy="443.05" r="2.9"/>
<circle cx="832.62" cy="446.63" r="2.9"/>
<circle cx="827.53" cy="449.24" r="2.9"/>
<circle cx="837.64" cy="450.55" r="2.9"/>
<circle cx="817.42" cy="453.81" r="2.9"/>
<circle cx="847.75" cy="454.27" r="2.9"/>
<circle cx="822.5" cy="456.74" r="2.9"/>
<circle cx="827.53" cy="455.44" r="2.9"/>
<circle cx="842.73" cy="458.7" r="2.9"/>
<circle cx="817.42" cy="460.85" r="2.9"/>
<circle cx="832.62" cy="460.98" r="2.9"/>
<circle cx="847.75" cy="460.98" r="2.9"/>
<circle cx="827.53" cy="461.96" r="2.9"/>
<circle cx="822.5" cy="465.55" r="2.9"/>
<circle cx="837.64" cy="464.9" r="2.9"/>
<circle cx="842.73" cy="465.23" r="2.9"/>
<circle cx="832.62" cy="468.29" r="2.9"/>
<circle cx="842.73" cy="471.42" r="2.9"/>
<circle cx="827.53" cy="473.38" r="2.9"/>
<circle cx="837.64" cy="475.01" r="2.9"/>
<circle cx="817.42" cy="477.16" r="2.9"/>
<circle cx="822.5" cy="477.62" r="2.9"/>
<circle cx="832.62" cy="476.18" r="2.9"/>
<circle cx="842.73" cy="477.62" r="2.9"/>
<circle cx="827.53" cy="479.9" r="2.9"/>
<circle cx="847.75" cy="480.23" r="2.9"/>
<circle cx="832.62" cy="482.19" r="2.9"/>
<circle cx="837.64" cy="482.19" r="2.9"/>
<circle cx="822.5" cy="483.16" r="2.9"/>
<circle cx="842.73" cy="484.99" r="2.9"/>
</g>
<line x1="778.7" y1="380.3" x2="831" y2="380.3" stroke="#111" stroke-width="1.2"/>
<text transform="translate(790.2 376.65) scale(0.88 1)" font-family="'DejaVu Sans',sans-serif" font-weight="bold" font-size="14.6" letter-spacing="0.77" style="stroke:#000;stroke-width:0.6px">****</text>
<text x="1053" y="320.3" text-anchor="middle" font-size="14.8">ATP production</text>
<line x1="990.4" y1="345.7" x2="990.4" y2="529.2" stroke="#262626" stroke-width="1.2"/>
<line x1="983.2" y1="346.3" x2="990.4" y2="346.3" stroke="#262626" stroke-width="1.2"/>
<text x="980.3" y="350.8" text-anchor="end" font-size="15.1">400</text>
<line x1="983.2" y1="437.4" x2="990.4" y2="437.4" stroke="#262626" stroke-width="1.2"/>
<text x="980.3" y="441.9" text-anchor="end" font-size="15.1">200</text>
<line x1="983.2" y1="528.6" x2="990.4" y2="528.6" stroke="#262626" stroke-width="1.2"/>
<text x="980.3" y="533.1" text-anchor="end" font-size="15.1">0</text>
<line x1="983.6" y1="528.6" x2="1115.2" y2="528.6" stroke="#262626" stroke-width="1.2"/>
<line x1="1026" y1="528.6" x2="1026" y2="532.1" stroke="#262626" stroke-width="1.2"/>
<line x1="1080" y1="528.6" x2="1080" y2="532.1" stroke="#262626" stroke-width="1.2"/>
<rect x="1008.3" y="386.4" width="35.5" height="142.2" fill="#EBB65C"/>
<rect x="1008.3" y="386.4" width="35.5" height="142.2" fill="none" stroke="#262626" stroke-width="1"/>
<rect x="1062.2" y="404" width="35.4" height="124.6" fill="#F0AD49"/>
<path clip-path="url(#c10)" d="M1060.2 400.47L1099.6 361.07M1060.2 407.8L1099.6 368.4M1060.2 415.13L1099.6 375.73M1060.2 422.46L1099.6 383.06M1060.2 429.79L1099.6 390.39M1060.2 437.12L1099.6 397.72M1060.2 444.45L1099.6 405.05M1060.2 451.78L1099.6 412.38M1060.2 459.11L1099.6 419.71M1060.2 466.44L1099.6 427.04M1060.2 473.77L1099.6 434.37M1060.2 481.1L1099.6 441.7M1060.2 488.43L1099.6 449.03M1060.2 495.76L1099.6 456.36M1060.2 503.09L1099.6 463.69M1060.2 510.42L1099.6 471.02M1060.2 517.75L1099.6 478.35M1060.2 525.08L1099.6 485.68M1060.2 532.41L1099.6 493.01M1060.2 539.74L1099.6 500.34M1060.2 547.07L1099.6 507.67M1060.2 554.4L1099.6 515M1060.2 561.73L1099.6 522.33M1060.2 569.06L1099.6 529.66" stroke="#161616" stroke-width="1.7" fill="none"/>
<rect x="1062.2" y="404" width="35.4" height="124.6" fill="none" stroke="#262626" stroke-width="1"/>
<text x="1026" y="548" text-anchor="middle" font-size="15.1">NT</text>
<text x="1080" y="548" text-anchor="middle" font-size="15.1">LN</text>
<text transform="translate(938.8 437.2) rotate(-90)" text-anchor="middle" font-size="14.9">OCR (pmol/min/abs)</text>
<path d="M1016.75 382.6H1035.25M1016.75 390H1035.25M1026 382.6V390" stroke="#222" stroke-width="1.1" fill="none"/>
<path d="M1070.75 400.4H1089.25M1070.75 407.4H1089.25M1080 400.4V407.4" stroke="#222" stroke-width="1.1" fill="none"/>
<g fill="#fff" stroke="#111" stroke-width="1">
<circle cx="1026.14" cy="353.23" r="2.9"/>
<circle cx="1020.92" cy="359.36" r="2.9"/>
<circle cx="1031.1" cy="363.27" r="2.9"/>
<circle cx="1025.88" cy="365.23" r="2.9"/>
<circle cx="1036.32" cy="366.93" r="2.9"/>
<circle cx="1015.84" cy="367.84" r="2.9"/>
<circle cx="1025.88" cy="370.84" r="2.9"/>
<circle cx="1031.1" cy="370.45" r="2.9"/>
<circle cx="1010.62" cy="374.1" r="2.9"/>
<circle cx="1015.84" cy="375.02" r="2.9"/>
<circle cx="1020.92" cy="375.67" r="2.9"/>
<circle cx="1036.32" cy="373.71" r="2.9"/>
<circle cx="1031.1" cy="375.93" r="2.9"/>
<circle cx="1025.88" cy="378.93" r="2.9"/>
<circle cx="1031.1" cy="382.45" r="2.9"/>
<circle cx="1020.92" cy="386.11" r="2.9"/>
<circle cx="1025.88" cy="386.11" r="2.9"/>
<circle cx="1036.32" cy="388.98" r="2.9"/>
<circle cx="1020.92" cy="392.37" r="2.9"/>
<circle cx="1031.1" cy="392.63" r="2.9"/>
<circle cx="1015.84" cy="396.94" r="2.9"/>
<circle cx="1036.32" cy="397.46" r="2.9"/>
<circle cx="1031.1" cy="400.2" r="2.9"/>
<circle cx="1025.88" cy="401.5" r="2.9"/>
<circle cx="1036.32" cy="407.24" r="2.9"/>
<circle cx="1025.88" cy="409.59" r="2.9"/>
<circle cx="1020.92" cy="410.9" r="2.9"/>
<circle cx="1031.1" cy="410.9" r="2.9"/>
<circle cx="1028.49" cy="419.12" r="2.9"/>
<circle cx="1023.27" cy="421.99" r="2.9"/>
</g>
<g fill="#fff" stroke="#111" stroke-width="1">
<circle cx="1079.77" cy="370.84" r="2.9"/>
<circle cx="1069.59" cy="376.32" r="2.9"/>
<circle cx="1079.77" cy="378.54" r="2.9"/>
<circle cx="1074.55" cy="380.63" r="2.9"/>
<circle cx="1084.86" cy="380.89" r="2.9"/>
<circle cx="1069.59" cy="388.98" r="2.9"/>
<circle cx="1079.77" cy="388.32" r="2.9"/>
<circle cx="1074.55" cy="391.06" r="2.9"/>
<circle cx="1095.04" cy="390.93" r="2.9"/>
<circle cx="1064.37" cy="393.02" r="2.9"/>
<circle cx="1069.59" cy="394.85" r="2.9"/>
<circle cx="1079.77" cy="394.2" r="2.9"/>
<circle cx="1084.86" cy="393.54" r="2.9"/>
<circle cx="1089.82" cy="395.89" r="2.9"/>
<circle cx="1074.55" cy="397.2" r="2.9"/>
<circle cx="1079.77" cy="400.07" r="2.9"/>
<circle cx="1074.55" cy="403.98" r="2.9"/>
<circle cx="1079.77" cy="405.94" r="2.9"/>
<circle cx="1074.55" cy="414.16" r="2.9"/>
<circle cx="1079.77" cy="415.86" r="2.9"/>
<circle cx="1069.59" cy="418.34" r="2.9"/>
<circle cx="1084.86" cy="418.73" r="2.9"/>
<circle cx="1064.37" cy="420.94" r="2.9"/>
<circle cx="1089.82" cy="419.77" r="2.9"/>
<circle cx="1074.55" cy="422.64" r="2.9"/>
<circle cx="1079.77" cy="421.73" r="2.9"/>
<circle cx="1084.86" cy="424.21" r="2.9"/>
<circle cx="1079.77" cy="429.82" r="2.9"/>
<circle cx="1084.86" cy="432.82" r="2.9"/>
<circle cx="1074.55" cy="437.39" r="2.9"/>
</g>
<line x1="1025.9" y1="346.3" x2="1080" y2="346.3" stroke="#111" stroke-width="1.2"/>
<text transform="translate(1041.9 342.75) scale(0.88 1)" font-family="'DejaVu Sans',sans-serif" font-weight="bold" font-size="14.6" letter-spacing="0.77" style="stroke:#000;stroke-width:0.6px">***</text>
<line x1="93.9" y1="638.9" x2="93.9" y2="822.9" stroke="#262626" stroke-width="1.2"/>
<line x1="86.7" y1="639.5" x2="93.9" y2="639.5" stroke="#262626" stroke-width="1.2"/>
<text x="83.8" y="644.2" text-anchor="end" font-size="15.1">2</text>
<line x1="86.7" y1="730.8" x2="93.9" y2="730.8" stroke="#262626" stroke-width="1.2"/>
<text x="83.8" y="735.5" text-anchor="end" font-size="15.1">1</text>
<line x1="86.7" y1="822.3" x2="93.9" y2="822.3" stroke="#262626" stroke-width="1.2"/>
<text x="83.8" y="827" text-anchor="end" font-size="15.1">0</text>
<line x1="87.1" y1="822.3" x2="218.5" y2="822.3" stroke="#262626" stroke-width="1.2"/>
<line x1="129.95" y1="822.3" x2="129.95" y2="825.8" stroke="#262626" stroke-width="1.2"/>
<line x1="183.65" y1="822.3" x2="183.65" y2="825.8" stroke="#262626" stroke-width="1.2"/>
<rect x="112.4" y="731.3" width="35.1" height="91" fill="#EBB65C"/>
<rect x="112.4" y="731.3" width="35.1" height="91" fill="none" stroke="#262626" stroke-width="1"/>
<rect x="166" y="674.4" width="35.3" height="147.9" fill="#F0AD49"/>
<path clip-path="url(#c11)" d="M164 670.87L203.3 631.57M164 678.2L203.3 638.9M164 685.53L203.3 646.23M164 692.86L203.3 653.56M164 700.19L203.3 660.89M164 707.52L203.3 668.22M164 714.85L203.3 675.55M164 722.18L203.3 682.88M164 729.51L203.3 690.21M164 736.84L203.3 697.54M164 744.17L203.3 704.87M164 751.5L203.3 712.2M164 758.83L203.3 719.53M164 766.16L203.3 726.86M164 773.49L203.3 734.19M164 780.82L203.3 741.52M164 788.15L203.3 748.85M164 795.48L203.3 756.18M164 802.81L203.3 763.51M164 810.14L203.3 770.84M164 817.47L203.3 778.17M164 824.8L203.3 785.5M164 832.13L203.3 792.83M164 839.46L203.3 800.16M164 846.79L203.3 807.49M164 854.12L203.3 814.82M164 861.45L203.3 822.15" stroke="#161616" stroke-width="1.7" fill="none"/>
<rect x="166" y="674.4" width="35.3" height="147.9" fill="none" stroke="#262626" stroke-width="1"/>
<path d="M174.4 665.6H192.9M174.4 683.2H192.9M183.65 665.6V683.2" stroke="#222" stroke-width="1.1" fill="none"/>
<g fill="#fff" stroke="#111" stroke-width="1">
<circle cx="114.7" cy="730.8" r="2.9"/>
<circle cx="124.7" cy="730.8" r="2.9"/>
<circle cx="134.9" cy="730.8" r="2.9"/>
<circle cx="144.9" cy="730.8" r="2.9"/>
</g>
<g fill="#fff" stroke="#111" stroke-width="1">
<circle cx="183.4" cy="653" r="2.9"/>
<circle cx="178" cy="672.6" r="2.9"/>
<circle cx="188.8" cy="677.2" r="2.9"/>
<circle cx="183.4" cy="695.2" r="2.9"/>
</g>
<text x="129.95" y="840.7" text-anchor="middle" font-size="15.1">NT</text>
<text x="183.65" y="840.7" text-anchor="middle" font-size="15.1">LN</text>
<text transform="translate(40.7 729.5) rotate(-90)" text-anchor="middle" font-style="italic" font-size="14.85">HK2 mRNA expression</text>
<text transform="translate(59.5 729.5) rotate(-90)" text-anchor="middle" font-style="italic" font-size="14.85">(fold change)</text>
<line x1="126.2" y1="641.7" x2="186.4" y2="641.7" stroke="#111" stroke-width="1.2"/>
<text transform="translate(145.2 638.25) scale(0.88 1)" font-family="'DejaVu Sans',sans-serif" font-weight="bold" font-size="14.6" letter-spacing="0.77" style="stroke:#000;stroke-width:0.6px">***</text>
<line x1="372.6" y1="638.9" x2="372.6" y2="822.9" stroke="#262626" stroke-width="1.2"/>
<line x1="365.4" y1="639.5" x2="372.6" y2="639.5" stroke="#262626" stroke-width="1.2"/>
<text x="362.5" y="644.2" text-anchor="end" font-size="15.1">2</text>
<line x1="365.4" y1="730.8" x2="372.6" y2="730.8" stroke="#262626" stroke-width="1.2"/>
<text x="362.5" y="735.5" text-anchor="end" font-size="15.1">1</text>
<line x1="365.4" y1="822.3" x2="372.6" y2="822.3" stroke="#262626" stroke-width="1.2"/>
<text x="362.5" y="827" text-anchor="end" font-size="15.1">0</text>
<line x1="365.8" y1="822.3" x2="497.2" y2="822.3" stroke="#262626" stroke-width="1.2"/>
<line x1="408.85" y1="822.3" x2="408.85" y2="825.8" stroke="#262626" stroke-width="1.2"/>
<line x1="462.5" y1="822.3" x2="462.5" y2="825.8" stroke="#262626" stroke-width="1.2"/>
<rect x="391.1" y="731.3" width="35.5" height="91" fill="#EBB65C"/>
<rect x="391.1" y="731.3" width="35.5" height="91" fill="none" stroke="#262626" stroke-width="1"/>
<rect x="444.8" y="685.5" width="35.4" height="136.8" fill="#F0AD49"/>
<path clip-path="url(#c12)" d="M442.8 681.97L482.2 642.57M442.8 689.3L482.2 649.9M442.8 696.63L482.2 657.23M442.8 703.96L482.2 664.56M442.8 711.29L482.2 671.89M442.8 718.62L482.2 679.22M442.8 725.95L482.2 686.55M442.8 733.28L482.2 693.88M442.8 740.61L482.2 701.21M442.8 747.94L482.2 708.54M442.8 755.27L482.2 715.87M442.8 762.6L482.2 723.2M442.8 769.93L482.2 730.53M442.8 777.26L482.2 737.86M442.8 784.59L482.2 745.19M442.8 791.92L482.2 752.52M442.8 799.25L482.2 759.85M442.8 806.58L482.2 767.18M442.8 813.91L482.2 774.51M442.8 821.24L482.2 781.84M442.8 828.57L482.2 789.17M442.8 835.9L482.2 796.5M442.8 843.23L482.2 803.83M442.8 850.56L482.2 811.16M442.8 857.89L482.2 818.49M442.8 865.22L482.2 825.82" stroke="#161616" stroke-width="1.7" fill="none"/>
<rect x="444.8" y="685.5" width="35.4" height="136.8" fill="none" stroke="#262626" stroke-width="1"/>
<path d="M453.25 675H471.75M453.25 694.5H471.75M462.5 675V694.5" stroke="#222" stroke-width="1.1" fill="none"/>
<g fill="#fff" stroke="#111" stroke-width="1">
<circle cx="393.5" cy="730.8" r="2.9"/>
<circle cx="403.5" cy="730.8" r="2.9"/>
<circle cx="413.6" cy="730.8" r="2.9"/>
<circle cx="423.8" cy="730.8" r="2.9"/>
</g>
<g fill="#fff" stroke="#111" stroke-width="1">
<circle cx="462.5" cy="660.2" r="2.9"/>
<circle cx="462.5" cy="679.8" r="2.9"/>
<circle cx="462.5" cy="696.6" r="2.9"/>
<circle cx="462.5" cy="703.7" r="2.9"/>
</g>
<text x="408.85" y="840.7" text-anchor="middle" font-size="15.1">NT</text>
<text x="462.5" y="840.7" text-anchor="middle" font-size="15.1">LN</text>
<text transform="translate(320.2 729.5) rotate(-90)" text-anchor="middle" font-style="italic" font-size="14.85">SLC2A1 mRNA expression</text>
<text transform="translate(339 729.5) rotate(-90)" text-anchor="middle" font-style="italic" font-size="14.85">(fold change)</text>
<line x1="407.2" y1="650.1" x2="462" y2="650.1" stroke="#111" stroke-width="1.2"/>
<text transform="translate(427.4 646.75) scale(0.88 1)" font-family="'DejaVu Sans',sans-serif" font-weight="bold" font-size="14.6" letter-spacing="0.77" style="stroke:#000;stroke-width:0.6px">**</text>
<line x1="654.1" y1="638.7" x2="654.1" y2="822.7" stroke="#262626" stroke-width="1.2"/>
<line x1="646.9" y1="639.3" x2="654.1" y2="639.3" stroke="#262626" stroke-width="1.2"/>
<text x="644" y="644" text-anchor="end" font-size="15.1">2</text>
<line x1="646.9" y1="730.5" x2="654.1" y2="730.5" stroke="#262626" stroke-width="1.2"/>
<text x="644" y="735.2" text-anchor="end" font-size="15.1">1</text>
<line x1="646.9" y1="822.1" x2="654.1" y2="822.1" stroke="#262626" stroke-width="1.2"/>
<text x="644" y="826.8" text-anchor="end" font-size="15.1">0</text>
<line x1="647.3" y1="822.1" x2="778.7" y2="822.1" stroke="#262626" stroke-width="1.2"/>
<line x1="689.95" y1="822.1" x2="689.95" y2="825.6" stroke="#262626" stroke-width="1.2"/>
<line x1="743.75" y1="822.1" x2="743.75" y2="825.6" stroke="#262626" stroke-width="1.2"/>
<rect x="672.4" y="731" width="35.1" height="91.1" fill="#EBB65C"/>
<rect x="672.4" y="731" width="35.1" height="91.1" fill="none" stroke="#262626" stroke-width="1"/>
<rect x="726" y="686.3" width="35.5" height="135.8" fill="#F0AD49"/>
<path clip-path="url(#c13)" d="M724 682.77L763.5 643.27M724 690.1L763.5 650.6M724 697.43L763.5 657.93M724 704.76L763.5 665.26M724 712.09L763.5 672.59M724 719.42L763.5 679.92M724 726.75L763.5 687.25M724 734.08L763.5 694.58M724 741.41L763.5 701.91M724 748.74L763.5 709.24M724 756.07L763.5 716.57M724 763.4L763.5 723.9M724 770.73L763.5 731.23M724 778.06L763.5 738.56M724 785.39L763.5 745.89M724 792.72L763.5 753.22M724 800.05L763.5 760.55M724 807.38L763.5 767.88M724 814.71L763.5 775.21M724 822.04L763.5 782.54M724 829.37L763.5 789.87M724 836.7L763.5 797.2M724 844.03L763.5 804.53M724 851.36L763.5 811.86M724 858.69L763.5 819.19M724 866.02L763.5 826.52" stroke="#161616" stroke-width="1.7" fill="none"/>
<rect x="726" y="686.3" width="35.5" height="135.8" fill="none" stroke="#262626" stroke-width="1"/>
<path d="M734.5 671.2H753M734.5 700.6H753M743.75 671.2V700.6" stroke="#222" stroke-width="1.1" fill="none"/>
<g fill="#fff" stroke="#111" stroke-width="1">
<circle cx="674.8" cy="730.5" r="2.9"/>
<circle cx="684.9" cy="730.5" r="2.9"/>
<circle cx="694.9" cy="730.5" r="2.9"/>
<circle cx="705.1" cy="730.5" r="2.9"/>
</g>
<g fill="#fff" stroke="#111" stroke-width="1">
<circle cx="743.6" cy="651.3" r="2.9"/>
<circle cx="743.6" cy="671.2" r="2.9"/>
<circle cx="738.2" cy="711.4" r="2.9"/>
<circle cx="749" cy="710.3" r="2.9"/>
</g>
<text x="689.95" y="840.7" text-anchor="middle" font-size="15.1">NT</text>
<text x="743.75" y="840.7" text-anchor="middle" font-size="15.1">LN</text>
<text transform="translate(601.2 728.8) rotate(-90)" text-anchor="middle" font-style="italic" font-size="14.85">SLC16A3 mRNA expression</text>
<text transform="translate(619.6 728.8) rotate(-90)" text-anchor="middle" font-style="italic" font-size="14.85">(fold change)</text>
<line x1="692.4" y1="638" x2="743.6" y2="638" stroke="#5a5a5a" stroke-width="1.6"/>
<text transform="translate(714.1 634.25) scale(0.88 1)" font-family="'DejaVu Sans',sans-serif" font-weight="bold" font-size="14.6" letter-spacing="0.77" style="stroke:#000;stroke-width:0.6px">*</text>
<line x1="991" y1="631.4" x2="991" y2="815.2" stroke="#262626" stroke-width="1.2"/>
<line x1="983.8" y1="632" x2="991" y2="632" stroke="#262626" stroke-width="1.2"/>
<text x="980.9" y="636.7" text-anchor="end" font-size="15.1">2.5</text>
<line x1="983.8" y1="668.6" x2="991" y2="668.6" stroke="#262626" stroke-width="1.2"/>
<text x="980.9" y="673.3" text-anchor="end" font-size="15.1">2.0</text>
<line x1="983.8" y1="705.2" x2="991" y2="705.2" stroke="#262626" stroke-width="1.2"/>
<text x="980.9" y="709.9" text-anchor="end" font-size="15.1">1.5</text>
<line x1="983.8" y1="741.6" x2="991" y2="741.6" stroke="#262626" stroke-width="1.2"/>
<text x="980.9" y="746.3" text-anchor="end" font-size="15.1">1.0</text>
<line x1="983.8" y1="778.2" x2="991" y2="778.2" stroke="#262626" stroke-width="1.2"/>
<text x="980.9" y="782.9" text-anchor="end" font-size="15.1">0.5</text>
<line x1="983.8" y1="814.6" x2="991" y2="814.6" stroke="#262626" stroke-width="1.2"/>
<text x="980.9" y="819.3" text-anchor="end" font-size="15.1">0.0</text>
<line x1="984.2" y1="814.6" x2="1116.6" y2="814.6" stroke="#262626" stroke-width="1.2"/>
<line x1="1009.8" y1="814.6" x2="1009.8" y2="818.1" stroke="#262626" stroke-width="1.2"/>
<line x1="1039" y1="814.6" x2="1039" y2="818.1" stroke="#262626" stroke-width="1.2"/>
<line x1="1068" y1="814.6" x2="1068" y2="818.1" stroke="#262626" stroke-width="1.2"/>
<line x1="1097" y1="814.6" x2="1097" y2="818.1" stroke="#262626" stroke-width="1.2"/>
<rect x="1000.2" y="742.7" width="19.3" height="71.9" fill="#EBB65C"/>
<rect x="1000.2" y="742.7" width="19.3" height="71.9" fill="none" stroke="#262626" stroke-width="1"/>
<rect x="1029.3" y="698.9" width="19.3" height="115.7" fill="#F0AD49"/>
<path clip-path="url(#c14)" d="M1027.3 695.37L1050.6 672.07M1027.3 702.7L1050.6 679.4M1027.3 710.03L1050.6 686.73M1027.3 717.36L1050.6 694.06M1027.3 724.69L1050.6 701.39M1027.3 732.02L1050.6 708.72M1027.3 739.35L1050.6 716.05M1027.3 746.68L1050.6 723.38M1027.3 754.01L1050.6 730.71M1027.3 761.34L1050.6 738.04M1027.3 768.67L1050.6 745.37M1027.3 776L1050.6 752.7M1027.3 783.33L1050.6 760.03M1027.3 790.66L1050.6 767.36M1027.3 797.99L1050.6 774.69M1027.3 805.32L1050.6 782.02M1027.3 812.65L1050.6 789.35M1027.3 819.98L1050.6 796.68M1027.3 827.31L1050.6 804.01M1027.3 834.64L1050.6 811.34M1027.3 841.97L1050.6 818.67" stroke="#161616" stroke-width="1.7" fill="none"/>
<rect x="1029.3" y="698.9" width="19.3" height="115.7" fill="none" stroke="#262626" stroke-width="1"/>
<rect x="1058.4" y="787.4" width="19.1" height="27.2" fill="#EBB65C"/>
<rect x="1058.4" y="787.4" width="19.1" height="27.2" fill="none" stroke="#262626" stroke-width="1"/>
<rect x="1087.3" y="777.9" width="19.3" height="36.7" fill="#F0AD49"/>
<path clip-path="url(#c15)" d="M1085.3 774.37L1108.6 751.07M1085.3 781.7L1108.6 758.4M1085.3 789.03L1108.6 765.73M1085.3 796.36L1108.6 773.06M1085.3 803.69L1108.6 780.39M1085.3 811.02L1108.6 787.72M1085.3 818.35L1108.6 795.05M1085.3 825.68L1108.6 802.38M1085.3 833.01L1108.6 809.71M1085.3 840.34L1108.6 817.04" stroke="#161616" stroke-width="1.7" fill="none"/>
<rect x="1087.3" y="777.9" width="19.3" height="36.7" fill="none" stroke="#262626" stroke-width="1"/>
<path d="M1034.05 686.5H1043.55M1034.05 710.4H1043.55M1038.8 686.5V710.4" stroke="#222" stroke-width="1.1" fill="none"/>
<path d="M1063.25 784H1072.75M1063.25 790.3H1072.75M1068 784V790.3" stroke="#222" stroke-width="1.1" fill="none"/>
<path d="M1092.25 773.9H1101.75M1092.25 781.7H1101.75M1097 773.9V781.7" stroke="#222" stroke-width="1.1" fill="none"/>
<g fill="#fff" stroke="#111" stroke-width="1">
<circle cx="1002.8" cy="741.6" r="2.9"/>
<circle cx="1007.7" cy="741.6" r="2.9"/>
<circle cx="1012.3" cy="741.6" r="2.9"/>
<circle cx="1016.9" cy="741.6" r="2.9"/>
</g>
<g fill="#fff" stroke="#111" stroke-width="1">
<circle cx="1038.8" cy="667.5" r="2.9"/>
<circle cx="1038.8" cy="693.7" r="2.9"/>
<circle cx="1031.9" cy="718.8" r="2.9"/>
<circle cx="1046" cy="714.5" r="2.9"/>
</g>
<g fill="#fff" stroke="#111" stroke-width="1">
<circle cx="1061" cy="783.7" r="2.9"/>
<circle cx="1074.9" cy="781.4" r="2.9"/>
<circle cx="1061" cy="789.4" r="2.9"/>
<circle cx="1074.9" cy="789.4" r="2.9"/>
</g>
<g fill="#fff" stroke="#111" stroke-width="1">
<circle cx="1104.3" cy="768.7" r="2.9"/>
<circle cx="1090.1" cy="773.9" r="2.9"/>
<circle cx="1104.3" cy="781.1" r="2.9"/>
<circle cx="1090.1" cy="784.8" r="2.9"/>
</g>
<text x="1024.8" y="833.6" text-anchor="middle" font-size="15.1">siCTR</text>
<text x="1082.7" y="835.6" text-anchor="middle" font-size="15.1">siNRF2</text>
<text transform="translate(925.8 722) rotate(-90)" text-anchor="middle" font-style="italic" font-size="14.85">G6PD mRNA expression</text>
<text transform="translate(943.4 722) rotate(-90)" text-anchor="middle" font-style="italic" font-size="14.85">(fold change)</text>
<line x1="1007.4" y1="625.4" x2="1096.2" y2="625.4" stroke="#111" stroke-width="1.2"/>
<text transform="translate(1044.4 621.25) scale(0.88 1)" font-family="'DejaVu Sans',sans-serif" font-weight="bold" font-size="14.6" letter-spacing="0.77" style="stroke:#000;stroke-width:0.6px">**</text>
<line x1="1007.4" y1="657.4" x2="1038" y2="657.4" stroke="#111" stroke-width="1.2"/>
<text transform="translate(1015 653.85) scale(0.88 1)" font-family="'DejaVu Sans',sans-serif" font-weight="bold" font-size="14.6" letter-spacing="0.77" style="stroke:#000;stroke-width:0.6px">**</text>
<line x1="1040.3" y1="657.4" x2="1098" y2="657.4" stroke="#111" stroke-width="1.2"/>
<text transform="translate(1054 653.85) scale(0.88 1)" font-family="'DejaVu Sans',sans-serif" font-weight="bold" font-size="14.6" letter-spacing="0.77" style="stroke:#000;stroke-width:0.6px">****</text>
<rect x="1121.4" y="632.5" width="18.5" height="12.1" fill="#EBBC76"/>
<rect x="1121.4" y="632.5" width="18.5" height="12.1" fill="none" stroke="#262626" stroke-width="1.3"/>
<rect x="1121.4" y="655.3" width="18.5" height="11.5" fill="#EDB767"/>
<path clip-path="url(#c16)" d="M1119.4 653.8L1141.9 631.3M1119.4 657.8L1141.9 635.3M1119.4 661.8L1141.9 639.3M1119.4 665.8L1141.9 643.3M1119.4 669.8L1141.9 647.3M1119.4 673.8L1141.9 651.3M1119.4 677.8L1141.9 655.3M1119.4 681.8L1141.9 659.3M1119.4 685.8L1141.9 663.3M1119.4 689.8L1141.9 667.3" stroke="#161616" stroke-width="1.35" fill="none"/>
<rect x="1121.4" y="655.3" width="18.5" height="11.5" fill="none" stroke="#262626" stroke-width="1.3"/>
<text x="1143.5" y="643.4" font-size="15.1">NT</text>
<text x="1143.5" y="665.7" font-size="15.1">LN</text>
</svg>
</body>
</html>
